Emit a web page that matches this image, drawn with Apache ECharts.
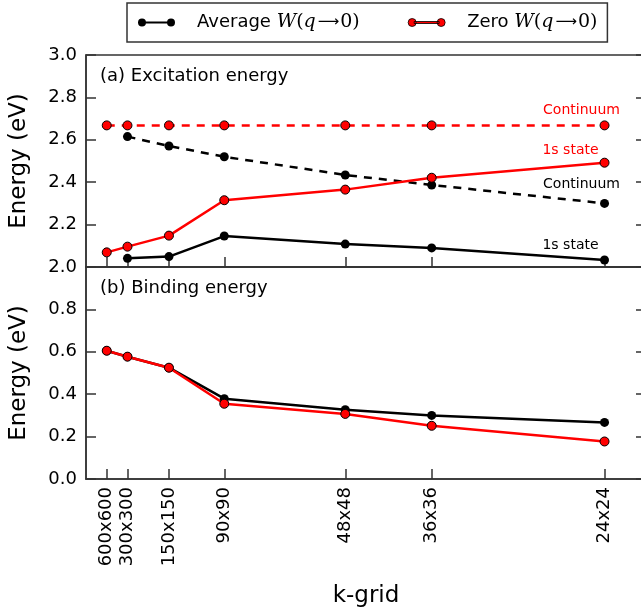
<!DOCTYPE html>
<html>
<head>
<meta charset="utf-8">
<script src="https://cdn.jsdelivr.net/npm/echarts@6/dist/echarts.min.js"></script>
<style>
  html, body { margin: 0; padding: 0; background: #fff; }
  #chart { width: 641px; height: 612px; }
</style>
</head>
<body>
<div id="chart"></div>
<script>
// k-grid labels and their position on the axis (1/N)
var kLabels = ['600x600', '300x300', '150x150', '90x90', '48x48', '36x36', '24x24'];
var kInv = [1 / 600, 1 / 300, 1 / 150, 1 / 90, 1 / 48, 1 / 36, 1 / 24];

// (a) excitation energy
var avgCont = [null, 2.615, 2.571, 2.520, 2.434, 2.387, 2.300];
var avg1s = [null, 2.041, 2.049, 2.146, 2.108, 2.090, 2.033];
var zeroCont = [2.668, 2.668, 2.668, 2.668, 2.668, 2.668, 2.668];
var zero1s = [2.069, 2.096, 2.148, 2.315, 2.365, 2.421, 2.492];

// (b) binding energy
var avgBind = [0.605, 0.577, 0.525, 0.379, 0.327, 0.300, 0.267];
var zeroBind = [0.605, 0.577, 0.525, 0.355, 0.307, 0.251, 0.177];

var FONT = 'DejaVu Sans';
var AXIS = '#333';

var chart = echarts.init(document.getElementById('chart'));

// turn a value list into [x, y] pairs, optional label on the last point
function pairs(vals, label) {
  return vals.map(function (v, i) {
    var p = { value: [kInv[i], v == null ? '-' : v] };
    if (label && i == vals.length - 1) {
      p.label = {
        show: true,
        formatter: label.text,
        position: 'inside',
        offset: label.offset,
        color: label.color,
        fontFamily: FONT,
        fontSize: 14
      };
    }
    return p;
  });
}

function kName(v) {
  for (var i = 0; i < kInv.length; i++) {
    if (Math.abs(kInv[i] - v) < 1e-6) return kLabels[i];
  }
  return '';
}

function lineSeries(name, color, dashed, xi, yi, data) {
  return {
    type: 'line',
    name: name,
    xAxisIndex: xi,
    yAxisIndex: yi,
    data: data,
    symbol: 'circle',
    symbolSize: 9,
    itemStyle: { color: color, borderColor: '#000', borderWidth: color == '#000' ? 0 : 1 },
    lineStyle: { color: color, width: 2.5, type: dashed ? [8, 7] : 'solid' },
    emphasis: { disabled: true },
    animation: false
  };
}

function xAx(grid, labels) {
  return {
    type: 'value', gridIndex: grid, min: 0, max: 0.045,
    axisLine: { lineStyle: { color: AXIS, width: 1.5 } },
    axisTick: { inside: true, length: 10, customValues: kInv, lineStyle: { color: AXIS, width: 1.5 } },
    axisLabel: labels ? {
      customValues: kInv, rotate: 90, margin: 8, color: '#000',
      fontFamily: FONT, fontSize: 18, formatter: kName
    } : { show: false },
    splitLine: { show: false },
    name: labels ? 'k-grid' : '',
    nameLocation: 'middle', nameGap: 106,
    nameTextStyle: { color: '#000', fontFamily: FONT, fontSize: 23 }
  };
}

function yAx(grid, min, max, right, hideTop) {
  return {
    type: 'value', gridIndex: grid, min: min, max: max, interval: 0.2,
    position: right ? 'right' : 'left',
    axisLine: { show: true, lineStyle: { color: AXIS, width: 1.5 } },
    axisTick: { show: true, inside: true, length: 10, lineStyle: { color: AXIS, width: 1.5 } },
    axisLabel: right ? { show: false } : {
      margin: 9, color: '#000', fontFamily: FONT, fontSize: 18,
      formatter: function (v) { return (hideTop && Math.abs(v - max) < 1e-6) ? '' : v.toFixed(1); }
    },
    splitLine: { show: false },
    name: right ? '' : 'Energy (eV)',
    nameLocation: 'middle', nameGap: 55,
    nameTextStyle: { color: '#000', fontFamily: FONT, fontSize: 23 }
  };
}

var legendRich = {
  t: { fontFamily: FONT, fontSize: 18, color: '#000' },
  m: { fontFamily: 'DejaVu Serif', fontStyle: 'italic', fontSize: 19, color: '#000' },
  n: { fontFamily: 'DejaVu Serif', fontSize: 19, color: '#000' },
  a: { fontFamily: 'DejaVu Sans', fontSize: 15, color: '#000', padding: [0, 1, 0, 2] }
};

var option = {
  backgroundColor: '#fff',
  grid: [
    { left: 86, top: 55, width: 560, height: 212, outerBoundsMode: 'none', show: true, borderColor: AXIS, borderWidth: 1.5 },
    { left: 86, top: 267, width: 560, height: 212, outerBoundsMode: 'none', show: true, borderColor: AXIS, borderWidth: 1.5 }
  ],
  legend: {
    left: 127, top: 3,
    data: [{ name: 'avg', itemStyle: { borderWidth: 0 } }, { name: 'zero', itemStyle: { borderWidth: 0.8 } }],
    icon: 'path://M0,4A4,4 0 1,1 8,4A4,4 0 1,1 0,4ZM29,4A4,4 0 1,1 37,4A4,4 0 1,1 29,4ZM6,3L31,3L31,5L6,5Z',
    itemWidth: 37, itemHeight: 9, itemGap: 48,
    padding: [10, 10, 10, 11],
    borderColor: AXIS, borderWidth: 1.5,
    textStyle: { padding: [0, 0, 0, 17], rich: legendRich },
    formatter: function (n) {
      return (n == 'avg' ? '{t|Average }' : '{t|Zero }') + '{m|W}{n|(}{m|q}{a|\u27F6}{n|0)}';
    }
  },
  xAxis: [xAx(0, false), xAx(1, true)],
  yAxis: [yAx(0, 2, 3, false, false), yAx(0, 2, 3, true), yAx(1, 0, 1, false, true), yAx(1, 0, 1, true)],
  graphic: [
    { type: 'text', left: 100, top: 67, style: { text: '(a) Excitation energy', fontFamily: FONT, fontSize: 18, fill: '#000' } },
    { type: 'text', left: 100, top: 279, style: { text: '(b) Binding energy', fontFamily: FONT, fontSize: 18, fill: '#000' } }
  ],
  series: [
    lineSeries('avg', '#000', false, 0, 0, pairs(avg1s, { text: '1s state', offset: [-34, -15], color: '#000' })),
    lineSeries('avg', '#000', true, 0, 0, pairs(avgCont, { text: 'Continuum', offset: [-23, -19], color: '#000' })),
    lineSeries('zero', '#ff0000', false, 0, 0, pairs(zero1s, { text: '1s state', offset: [-34, -12], color: '#ff0000' })),
    lineSeries('zero', '#ff0000', true, 0, 0, pairs(zeroCont, { text: 'Continuum', offset: [-23, -15], color: '#ff0000' })),
    lineSeries('avg', '#000', false, 1, 2, pairs(avgBind)),
    lineSeries('zero', '#ff0000', false, 1, 2, pairs(zeroBind))
  ]
};

chart.setOption(option);
</script>
</body>
</html>
